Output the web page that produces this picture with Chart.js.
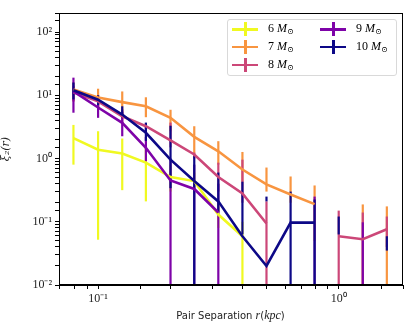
<!DOCTYPE html>
<html>
<head>
<meta charset="utf-8">
<script src="https://cdn.jsdelivr.net/npm/chart.js@4/dist/chart.umd.min.js"></script>
<style>
  body { margin: 0; background: #fff; }
  #wrap { position: relative; width: 415px; height: 331px; }
  #legend {
    position: absolute; left: 227px; top: 19px; width: 168px; height: 55px;
    border: 1px solid #d9d9d9; border-radius: 3px; background: rgba(255,255,255,0.8);
    font-family: "Liberation Serif", "DejaVu Serif", serif; font-size: 12px; color: #000;
  }
  .item { position: absolute; height: 14px; line-height: 14px; white-space: nowrap; }
  .sym { position: absolute; left: 0; top: 0; width: 26px; height: 14px; }
  .sym .h { position: absolute; left: 0; top: 6px; width: 26px; height: 2.5px; }
  .sym .v { position: absolute; left: 12px; top: 0; width: 2.5px; height: 14px; }
  .txt { position: absolute; left: 36px; top: -1px; }
  .txt i { font-style: italic; }
  .txt sub { font-size: 8px; vertical-align: -2px; }
  #xtitle {
    position: absolute; left: 59px; width: 343px; top: 308px; text-align: center;
    font-family: "DejaVu Sans", sans-serif; font-size: 10px; color: #222;
  }
  #xtitle i { font-family: "Liberation Serif", serif; font-size: 12px; }
</style>
</head>
<body>
<div id="wrap">
  <canvas id="chart" width="415" height="331"></canvas>
  <div id="legend"></div>
  <div id="xtitle">Pair Separation <i>r</i>(<i>kpc</i>)</div>
</div>
<script>
// bin centres (kpc)
const radius = [0.079, 0.1, 0.126, 0.158, 0.2, 0.251, 0.316, 0.398, 0.501, 0.631, 0.794, 1.0, 1.259, 1.585];

const masses = ['6', '7', '8', '9', '10'];
const colors = ['#f0f921', '#f89540', '#cc4778', '#7e03a8', '#0d0887'];

// xi_2(r) per mass, null = no value
const xi6  = [2.1, 1.38, 1.2, 0.86, 0.51, 0.44, 0.13, 0.059, null, null, null, null, null, null];
const xi7  = [12.3, 9.2, 7.8, 6.7, 4.4, 2.2, 1.3, 0.67, 0.39, 0.27, 0.19, null, null, null];
const xi8  = [11.2, 8.0, 4.65, 3.24, 1.93, 1.16, 0.51, 0.28, 0.094, null, null, 0.059, 0.053, 0.076];
const xi9  = [11.5, 6.4, 3.66, 1.48, 0.45, 0.33, 0.14, null, null, null, null, null, null, null];
const xi10 = [12.0, 8.5, 4.95, 2.55, 0.96, 0.44, 0.21, 0.059, 0.02, 0.097, 0.097, null, null, null];

// error bar ends (low, high)
const lo6  = [0.8, 0.052, 0.316, 0.21, 0.3, 0.3, 0.08, 0.001, null, null, null, null, null, null];
const hi6  = [3.4, 2.7, 2.07, 1.6, 0.8, 0.6, 0.2, 0.1, null, null, null, null, null, null];
const lo7  = [8, 6, 5, 4.5, 2.7, 1.1, 0.8, 0.43, 0.3, 0.2, 0.05, null, 0.001, 0.001];
const hi7  = [16, 12.7, 11.5, 9.3, 5.9, 3.24, 1.88, 1.27, 0.72, 0.52, 0.375, null, 0.188, 0.175];
const lo8  = [8, 6, 3.5, 2.8, 1.5, 1.0, 0.3, 0.2, 0.001, null, null, 0.001, 0.001, 0.04];
const hi8  = [14, 10, 6, 3.6, 3.7, 1.24, 0.86, 0.96, 0.21, null, null, 0.15, 0.14, 0.121];
const lo9  = [5.3, 4.4, 2.25, 0.9, 0.001, 0.001, 0.001, null, null, null, 0.001, null, 0.001, null];
const hi9  = [19, 8.5, 5.5, 2.2, 1.0, 0.8, 0.4, null, null, null, 0.25, null, 0.098, null];
const lo10 = [8.6, 7, 4.4, 1.9, 0.34, 0.001, 0.14, 0.063, 0.21, 0.001, 0.001, 0.063, null, 0.035];
const hi10 = [15.9, 10, 6.7, 3.7, 3.3, 1.09, 0.6, 0.43, 0.25, 0.3, 0.225, 0.121, null, 0.059];

const yTicks = [0.01, 0.1, 1, 10, 100];

const series = [xi6, xi7, xi8, xi9, xi10];
const lows = [lo6, lo7, lo8, lo9, lo10];
const highs = [hi6, hi7, hi8, hi9, hi10];

const sup = { '-': '⁻', '0': '⁰', '1': '¹', '2': '²' };
function decadeLabel(v) {
    const e = Math.round(Math.log10(v));
    if (Math.abs(Math.log10(v) - e) > 1e-6) return '';
    return '10' + String(e).split('').map(c => sup[c]).join('');
}

// draws each series' error bars under the lines
const errorBars = {
    id: 'errorBars',
    beforeDatasetsDraw(chart) {
        const { ctx, chartArea, scales: { x, y } } = chart;
        ctx.save();
        ctx.beginPath();
        ctx.rect(chartArea.left, chartArea.top, chartArea.width, chartArea.height);
        ctx.clip();
        ctx.lineWidth = 2.2;
        chart.data.datasets.forEach(ds => {
            ctx.strokeStyle = ds.borderColor;
            ds.errLow.forEach((l, i) => {
                const h = ds.errHigh[i];
                if (l == null || h == null) return;
                const px = x.getPixelForValue(radius[i]);
                ctx.beginPath();
                ctx.moveTo(px, y.getPixelForValue(l));
                ctx.lineTo(px, y.getPixelForValue(h));
                ctx.stroke();
            });
        });
        ctx.restore();
    }
};

const frame = {
    id: 'frame',
    afterDraw(chart) {
        const { ctx, chartArea } = chart;
        ctx.save();
        ctx.strokeStyle = '#000';
        ctx.lineWidth = 1;
        ctx.strokeRect(chartArea.left + 0.5, chartArea.top + 0.5, chartArea.width - 1, chartArea.height - 1);
        ctx.restore();
    }
};

const datasets = series.map((vals, k) => ({
    label: masses[k] + ' M☉',
    data: radius.map((r, i) => ({ x: r, y: vals[i] })),
    borderColor: colors[k],
    backgroundColor: colors[k],
    borderWidth: 2.6,
    pointRadius: 0,
    tension: 0,
    spanGaps: false,
    order: 4 - k,
    errLow: lows[k],
    errHigh: highs[k],
}));

new Chart(document.getElementById('chart'), {
    type: 'line',
    data: { datasets },
    options: {
        responsive: false,
        devicePixelRatio: 1,
        animation: false,
        layout: { padding: { left: 0, right: 12, top: 13, bottom: 0 } },
        plugins: { legend: { display: false }, tooltip: { enabled: false } },
        scales: {
            x: {
                type: 'logarithmic',
                min: 0.0688,
                max: 1.85,
                border: { display: true, color: '#000', width: 1 },
                grid: { drawOnChartArea: false, tickLength: 4, color: '#000' },
                ticks: {
                    autoSkip: false, maxRotation: 0, padding: 3,
                    color: '#222',
                    font: { family: 'Liberation Serif', size: 12 },
                    callback: v => decadeLabel(v),
                },
                afterFit(scale) { scale.height = 46; },
            },
            y: {
                type: 'logarithmic',
                min: 0.01,
                max: 200,
                border: { display: true, color: '#000', width: 1 },
                grid: { drawOnChartArea: false, tickLength: 4, color: '#000' },
                ticks: {
                    autoSkip: false, padding: 3,
                    color: '#222',
                    font: { family: 'Liberation Serif', size: 12 },
                    callback: v => (yTicks.some(t => Math.abs(t - v) / t < 1e-6) ? decadeLabel(v) : ''),
                },
                title: {
                    display: true,
                    text: 'ξ₂(r)',
                    color: '#222',
                    font: { family: 'DejaVu Serif', size: 11, style: 'italic' },
                    padding: { top: 0, bottom: 2 },
                },
                afterFit(scale) { scale.width = 59; },
            },
        },
    },
    plugins: [errorBars, frame],
});

// legend, two columns like the original
const legend = document.getElementById('legend');
masses.forEach((m, k) => {
    const col = k < 3 ? 0 : 1;
    const row = k < 3 ? k : k - 3;
    const item = document.createElement('div');
    item.className = 'item';
    item.style.left = (col === 0 ? 4 : 92) + 'px';
    item.style.top = (2 + row * 17.8) + 'px';
    item.innerHTML = '<div class="sym"><div class="h" style="background:' + colors[k] +
        '"></div><div class="v" style="background:' + colors[k] + '"></div></div>' +
        '<span class="txt">' + m + ' <i>M</i><sub>⊙</sub></span>';
    legend.appendChild(item);
});
</script>
</body>
</html>
